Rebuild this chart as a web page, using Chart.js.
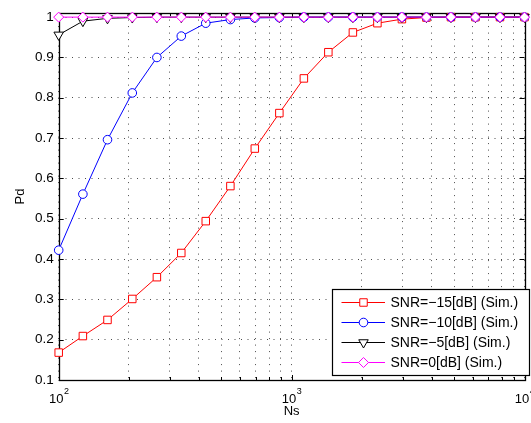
<!DOCTYPE html>
<html><head><meta charset="utf-8">
<style>html,body{margin:0;padding:0;background:#fff;overflow:hidden}#wrap{width:531px;height:423px;position:relative}</style>
<script src="https://cdn.jsdelivr.net/npm/chart.js@4/dist/chart.umd.min.js"></script>
</head><body><div id="wrap"><canvas id="c" width="531" height="423"></canvas></div>
<script>
// ---- data ----
const ns = [100,127,162,207,264,336,428,546,695,886,1129,1438,1833,2336,2976,3793,4833,6158,7848,10000];
const pdSnrM15 = [0.168,0.209,0.249,0.301,0.355,0.415,0.494,0.581,0.674,0.762,0.848,0.913,0.962,0.985,0.995,0.999,1,1,1,1];
const pdSnrM10 = [0.422,0.561,0.696,0.812,0.900,0.953,0.985,0.994,0.998,0.999,1,1,1,1,1,1,1,1,1,1];
const pdSnrM5  = [0.956,0.990,0.997,0.999,1,1,1,1,1,1,1,1,1,1,1,1,1,1,1,1];
const pdSnr0   = [1,1,1,1,1,1,1,1,1,1,1,1,1,1,1,1,1,1,1,1];
const seriesLabels = ['SNR=\u221215[dB] (Sim.)','SNR=\u221210[dB] (Sim.)','SNR=\u22125[dB] (Sim.)','SNR=0[dB] (Sim.)'];
const yTickValues = [0.1,0.2,0.3,0.4,0.5,0.6,0.7,0.8,0.9,1.0];
const xGridValues = [100,200,300,400,500,600,700,800,900,1000,2000,3000,4000,5000,6000,7000,8000,9000,10000];
const xLabelValues = [100,1000,10000];
const xLabelBase = '10';
const xLabelExponents = ['2','3','4'];
const xTitle = 'Ns';
const yTitle = 'Pd';

const FONT = '"Liberation Sans", Arial, Helvetica, sans-serif';

function pts(arr){ return ns.map((x,i)=>({x:x,y:arr[i]})); }

const styles = [
  {color:'#ff0000', pointStyle:'rect', radius:5.3, rotation:0},
  {color:'#0000ff', pointStyle:'circle', radius:4.3, rotation:0},
  {color:'#000000', pointStyle:'triangle', radius:5.5, rotation:180},
  {color:'#ff00ff', pointStyle:'rectRot', radius:5, rotation:0}
];
const seriesData = [pdSnrM15, pdSnrM10, pdSnrM5, pdSnr0];

const datasets = seriesData.map((arr,i)=>({
  label: seriesLabels[i],
  data: pts(arr),
  borderColor: styles[i].color,
  backgroundColor: '#ffffff',
  borderWidth: 1,
  pointStyle: styles[i].pointStyle,
  pointRadius: styles[i].radius,
  pointRotation: styles[i].rotation,
  pointBorderColor: styles[i].color,
  pointBackgroundColor: '#ffffff',
  pointBorderWidth: 1,
  pointHoverRadius: styles[i].radius,
  tension: 0,
  fill: false,
  clip: false,
  order: 3 - i
}));

const axesPlugin = {
  id: 'matlabAxes',
  beforeDatasetsDraw(chart){
    const {ctx, chartArea:a, scales:{x, y}} = chart;
    ctx.save();
    ctx.setLineDash([]);
    ctx.strokeStyle = '#000';
    ctx.lineWidth = 1;
    ctx.beginPath();
    xGridValues.forEach(v=>{
      const px = Math.round(x.getPixelForValue(v)) + 0.5;
      const major = xLabelValues.includes(v);
      const L = major ? 5 : 3;
      ctx.moveTo(px, a.bottom); ctx.lineTo(px, a.bottom - L);
      ctx.moveTo(px, a.top); ctx.lineTo(px, a.top + L);
    });
    yTickValues.forEach(v=>{
      const py = Math.round(y.getPixelForValue(v)) + 0.5;
      ctx.moveTo(a.left, py); ctx.lineTo(a.left + 5, py);
      ctx.moveTo(a.right, py); ctx.lineTo(a.right - 5, py);
    });
    ctx.stroke();
    ctx.lineWidth = 1.3;
    ctx.strokeRect(Math.round(a.left)+0.5, Math.round(a.top)+0.5, Math.round(a.right)-Math.round(a.left), Math.round(a.bottom)-Math.round(a.top));
    ctx.restore();
  },
  afterDraw(chart){
    const {ctx, scales:{x}} = chart;
    ctx.save();
    ctx.setLineDash([]);
    ctx.fillStyle = '#000';
    ctx.textBaseline = 'alphabetic';
    xLabelValues.forEach((v,i)=>{
      const px = x.getPixelForValue(v);
      ctx.font = '13px ' + FONT;
      const wb = ctx.measureText(xLabelBase).width;
      ctx.font = '9px ' + FONT;
      const we = ctx.measureText(xLabelExponents[i]).width;
      const start = px - (wb + we)/2;
      ctx.font = '13px ' + FONT;
      ctx.textAlign = 'left';
      ctx.fillText(xLabelBase, start, 403);
      ctx.font = '9px ' + FONT;
      ctx.fillText(xLabelExponents[i], start + wb + 0.5, 394);
    });
    const lx0 = 332.5, ly0 = 289.5, lx1 = 529.5, ly1 = 375.5;
    ctx.fillStyle = '#fff';
    ctx.fillRect(lx0, ly0, lx1-lx0, ly1-ly0);
    ctx.strokeStyle = '#000';
    ctx.lineWidth = 1.2;
    ctx.strokeRect(lx0, ly0, lx1-lx0, ly1-ly0);
    chart.data.datasets.forEach((ds,i)=>{
      const yy = 302.5 + 20*i;
      ctx.strokeStyle = ds.borderColor;
      ctx.lineWidth = 1;
      ctx.beginPath(); ctx.moveTo(341.5, yy); ctx.lineTo(385, yy); ctx.stroke();
      ctx.fillStyle = '#fff';
      ctx.strokeStyle = ds.borderColor;
      Chart.helpers.drawPoint(ctx, {pointStyle: ds.pointStyle, radius: ds.pointRadius, rotation: ds.pointRotation, borderWidth: 1}, 363.5, yy);
      ctx.fillStyle = '#000';
      ctx.font = '14px ' + FONT;
      ctx.textAlign = 'left';
      ctx.textBaseline = 'middle';
      ctx.fillText(ds.label, 390.5, yy + 0.5);
    });
    ctx.restore();
  }
};

new Chart(document.getElementById('c'), {
  type: 'line',
  data: { datasets },
  options: {
    responsive: false,
    devicePixelRatio: 1,
    animation: false,
    events: [],
    layout: { padding: { top: 9, right: 2.5, left: 0, bottom: 0 } },
    plugins: { legend: { display: false }, tooltip: { enabled: false } },
    scales: {
      x: {
        type: 'logarithmic',
        position: 'bottom',
        min: 100, max: 10000,
        afterBuildTicks: s => { s.ticks = xGridValues.map(v=>({value:v})); },
        afterFit: s => { s.height = 43; },
        ticks: { display: false },
        grid: { color: 'rgba(0,0,0,0.7)', drawTicks: false, lineWidth: 1 },
        border: { display: false, dash: [1,5.5] },
        title: { display: true, text: xTitle, color: '#000', font: { family: FONT, size: 13 }, padding: { top: 0, bottom: 4 } }
      },
      y: {
        type: 'linear',
        position: 'left',
        min: 0.1, max: 1.01,
        afterBuildTicks: s => { s.ticks = yTickValues.map(v=>({value:v})); },
        afterFit: s => { s.width = 58.7; },
        ticks: { color: '#000', padding: 5, font: { family: FONT, size: 13.5 },
                 callback: v => String(Number(v.toFixed(1))) },
        grid: { color: 'rgba(0,0,0,0.7)', drawTicks: false, lineWidth: 1 },
        border: { display: false, dash: [1,5.5] },
        title: { display: true, text: yTitle, color: '#000', font: { family: FONT, size: 13 }, padding: { top: 12.5, bottom: 0 } }
      }
    }
  },
  plugins: [axesPlugin]
});
</script>
</body></html>
